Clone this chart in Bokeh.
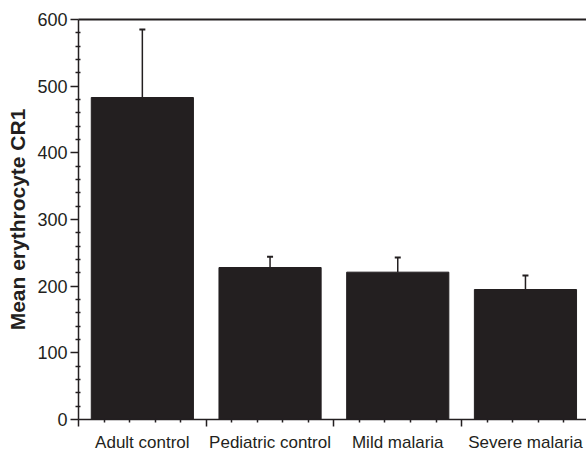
from bokeh.plotting import figure
from bokeh.models import (Range1d, LinearAxis, FixedTicker, ColumnDataSource,
                          Whisker, TeeHead)
from bokeh.embed import file_html
from bokeh.resources import INLINE

categories = ["Adult control", "Pediatric control", "Mild malaria", "Severe malaria"]
means = [483, 228, 221, 195]
errors = [102, 16, 22, 21]
y_ticks = [0, 100, 200, 300, 400, 500, 600]
y_title = "Mean erythrocyte CR1"

INK = "#231f20"
FONT = "Liberation Sans"

xs = list(range(1, len(categories) + 1))
src = ColumnDataSource(dict(
    x=xs, top=means, upper=[m + e for m, e in zip(means, errors)], cat=categories))

p = figure(width=586, height=455, output_backend="svg", toolbar_location=None,
           x_range=Range1d(0.5, 4.478), y_range=Range1d(0, 600),
           x_axis_location=None, min_border_left=78, min_border_right=0,
           min_border_top=19, min_border_bottom=36)
p.grid.visible = False
p.outline_line_color = None
p.background_fill_color = "white"

p.vbar(x="x", top="top", width=0.8, bottom=0, source=src,
       fill_color=INK, line_color=INK)
w = Whisker(base="x", lower="top", upper="upper", source=src, dimension="height",
            line_color=INK, line_width=1.5, lower_head=None,
            upper_head=TeeHead(size=6, line_color=INK, line_width=2))
p.add_layout(w)

# y axis
ya = p.yaxis[0]
ya.ticker = FixedTicker(ticks=y_ticks,
                        minor_ticks=[v for v in range(0, 601, 20) if v % 100])
ya.axis_label = y_title
ya.axis_label_text_font = FONT
ya.axis_label_text_font_style = "bold"
ya.axis_label_text_font_size = "21px"
ya.axis_label_text_color = INK
ya.axis_label_standoff = 5
ya.major_label_text_font = FONT
ya.major_label_text_font_size = "18px"
ya.major_label_text_color = INK
ya.major_label_standoff = 3
ya.axis_line_color = INK
ya.axis_line_width = 1.5
ya.major_tick_line_color = INK
ya.major_tick_line_width = 1.5
ya.major_tick_out = 8
ya.major_tick_in = 0
ya.minor_tick_line_color = INK
ya.minor_tick_line_width = 1.5
ya.minor_tick_out = 3
ya.minor_tick_in = 2

# x axis with ticks at category boundaries
bounds = [i + 0.5 for i in range(0, len(categories) + 1)]
minors = [round(b + k * 0.2, 2) for b in bounds[:-1] for k in range(1, 5)]
xa = LinearAxis(ticker=FixedTicker(ticks=bounds, minor_ticks=minors),
                major_label_text_font_size="1px", major_label_text_color=None,
                major_label_standoff=0,
                axis_line_color=INK, axis_line_width=1.5,
                major_tick_line_color=INK, major_tick_line_width=1.5,
                major_tick_out=7, major_tick_in=0,
                minor_tick_line_color=INK, minor_tick_line_width=1.5,
                minor_tick_out=3, minor_tick_in=0)
p.add_layout(xa, "below")

# category labels axis
xl = LinearAxis(ticker=FixedTicker(ticks=xs, minor_ticks=[]),
                major_label_overrides={x: c for x, c in zip(xs, categories)},
                major_label_text_font=FONT, major_label_text_font_size="17px",
                major_label_text_color=INK, major_label_standoff=0,
                axis_line_color=None, major_tick_line_color=None,
                minor_tick_line_color=None)
p.add_layout(xl, "below")

# top frame line
ta = LinearAxis(ticker=FixedTicker(ticks=[], minor_ticks=[]),
                major_label_text_font_size="1px", major_label_text_color=None,
                major_label_standoff=0,
                axis_line_color=INK, axis_line_width=2,
                major_tick_line_color=None, minor_tick_line_color=None)
p.add_layout(ta, "above")

open("out.html", "w").write(file_html(p, INLINE))
